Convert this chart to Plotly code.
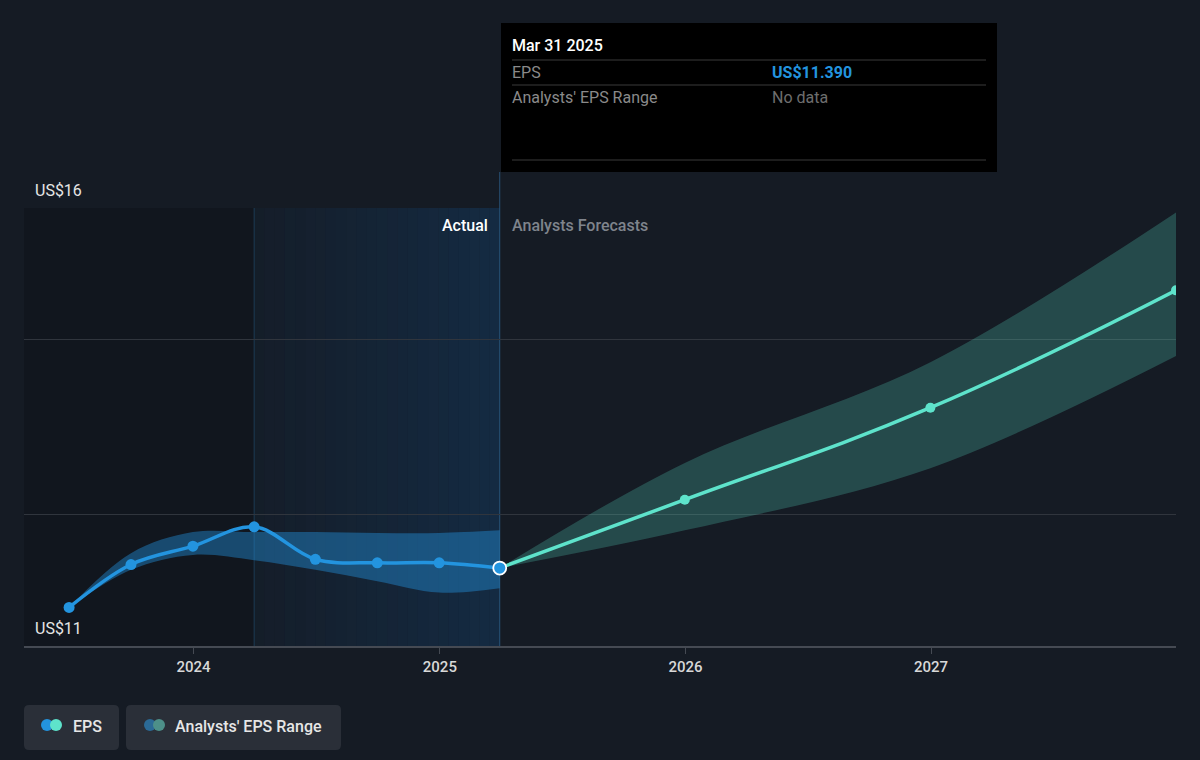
import plotly.graph_objects as go
import pandas as pd

# ---------------- data ----------------
actual_dates = ["2023-06-30", "2023-09-30", "2023-12-31", "2024-03-31",
                "2024-06-30", "2024-09-30", "2024-12-31", "2025-03-31"]
actual_eps = [11.44, 11.93, 12.14, 12.36, 11.99, 11.95, 11.95, 11.89]
actual_hi = [11.44, 12.06, 12.30, 12.30, 12.30, 12.29, 12.29, 12.32]
actual_lo = [11.44, 11.87, 12.04, 11.98, 11.87, 11.74, 11.61, 11.66]

fc_dates = ["2025-03-31", "2025-12-31", "2026-12-31", "2027-12-31"]
fc_eps = [11.89, 12.67, 13.72, 15.06]
fc_hi = [11.89, 13.09, 14.24, 15.95]
fc_lo = [11.89, 12.32, 13.03, 14.31]

y_grid = [11, 12.5, 14.5, 16]
y_labels = ["US$11", "US$16"]
x_ticks = ["2024-01-01", "2025-01-01", "2026-01-01", "2027-01-01"]
x_tick_text = ["2024", "2025", "2026", "2027"]
x_range = ["2023-04-24", "2027-12-31"]
y_range = [11, 16]

tip_date = "Mar 31 2025"
tip_eps = "US$11.390"

# ---------------- style ----------------
BG = "#151b24"
BLUE = "#2394df"
TEAL = "#5ee3cb"
FONT = "Roboto"

L, R, T, B = 24, 1176, 208, 646
W, H = 1200, 760


def px(x):
    return (x - L) / (R - L)


def py(y):
    return (B - y) / (B - T)


fig = go.Figure()

# actual band
fig.add_trace(go.Scatter(x=actual_dates, y=actual_lo, mode="lines",
                         line=dict(width=0, shape="spline", color=BLUE),
                         hoverinfo="skip"))
fig.add_trace(go.Scatter(x=actual_dates, y=actual_hi, mode="lines",
                         line=dict(width=0, shape="spline", color=BLUE),
                         fill="tonexty", fillcolor="rgba(35,148,223,0.42)",
                         hoverinfo="skip"))
# forecast band
fig.add_trace(go.Scatter(x=fc_dates, y=fc_lo, mode="lines",
                         line=dict(width=0, shape="spline", color=TEAL),
                         hoverinfo="skip"))
fig.add_trace(go.Scatter(x=fc_dates, y=fc_hi, mode="lines",
                         line=dict(width=0, shape="spline", color=TEAL),
                         fill="tonexty", fillcolor="rgba(92,224,200,0.24)",
                         hoverinfo="skip"))
# forecast line
fig.add_trace(go.Scatter(x=fc_dates[1:], y=fc_eps[1:], mode="markers",
                         marker=dict(size=10, color=TEAL), hoverinfo="skip"))
fig.add_trace(go.Scatter(x=fc_dates, y=fc_eps, mode="lines",
                         line=dict(width=3.5, shape="spline", color=TEAL,
                                   smoothing=1.2),
                         hoverinfo="skip"))
# actual line
fig.add_trace(go.Scatter(x=actual_dates, y=actual_eps, mode="lines+markers",
                         line=dict(width=3.5, shape="spline", color=BLUE),
                         marker=dict(size=11, color=BLUE), hoverinfo="skip"))
# hovered point
fig.add_trace(go.Scatter(x=[actual_dates[-1]], y=[actual_eps[-1]], mode="markers",
                         marker=dict(size=13, color=BLUE,
                                     line=dict(color="white", width=1.8)),
                         hoverinfo="skip"))

shapes = []
# dark left region (before actual highlight)
shapes.append(dict(type="rect", xref="x", yref="paper", x0=x_range[0],
                   x1=actual_dates[3], y0=0, y1=1, line_width=0,
                   fillcolor="rgba(0,0,0,0.16)", layer="below"))
# highlight gradient for last actual year
d0 = pd.Timestamp(actual_dates[3])
d1 = pd.Timestamp(actual_dates[-1])
n = 24
for i in range(n):
    a = d0 + (d1 - d0) * i / n
    b = d0 + (d1 - d0) * (i + 1) / n
    alpha = 0.06 + 0.30 * (i + 0.5) / n
    shapes.append(dict(type="rect", xref="x", yref="paper", x0=a, x1=b,
                       y0=0, y1=1, line_width=0,
                       fillcolor=f"rgba(20,72,122,{alpha:.3f})", layer="below"))
shapes.append(dict(type="line", xref="x", yref="paper", x0=actual_dates[3],
                   x1=actual_dates[3], y0=0, y1=1,
                   line=dict(color="rgba(45,100,145,0.45)", width=1), layer="below"))
shapes.append(dict(type="line", xref="x", yref="paper", x0=actual_dates[-1],
                   x1=actual_dates[-1], y0=0, y1=py(172),
                   line=dict(color="rgba(45,100,145,0.75)", width=1), layer="below"))

# tooltip box
shapes.append(dict(type="rect", xref="paper", yref="paper", x0=px(501), x1=px(997),
                   y0=py(172), y1=py(23), fillcolor="#000000", line_width=0))
for yy in (60, 85, 160):
    shapes.append(dict(type="line", xref="paper", yref="paper", x0=px(512),
                       x1=px(986), y0=py(yy), y1=py(yy),
                       line=dict(color="#3a3a3a", width=1.2)))


def rrect(x0, y0, x1, y1, r, color):
    rx = r / (R - L)
    ry = r / (B - T)
    X0, X1 = px(x0), px(x1)
    Y0, Y1 = py(y1), py(y0)  # Y0 bottom, Y1 top
    path = (f"M{X0+rx},{Y0} L{X1-rx},{Y0} Q{X1},{Y0} {X1},{Y0+ry} "
            f"L{X1},{Y1-ry} Q{X1},{Y1} {X1-rx},{Y1} L{X0+rx},{Y1} "
            f"Q{X0},{Y1} {X0},{Y1-ry} L{X0},{Y0+ry} Q{X0},{Y0} {X0+rx},{Y0} Z")
    return dict(type="path", xref="paper", yref="paper", path=path,
                fillcolor=color, line_width=0)


def circ(cx, cy, r, color):
    return dict(type="circle", xref="paper", yref="paper",
                x0=px(cx - r), x1=px(cx + r), y0=py(cy + r), y1=py(cy - r),
                fillcolor=color, line_width=0)


shapes.append(rrect(24, 705, 119, 750, 5, "#2a2f38"))
shapes.append(rrect(126, 705, 341, 750, 5, "#2a2f38"))
shapes.append(circ(47, 725, 6, BLUE))
shapes.append(circ(56, 725, 6, TEAL))
shapes.append(circ(150, 725, 6, "#2b6a96"))
shapes.append(circ(159, 725, 6, "#4d9089"))

annotations = []


def txt(x, y, s, color, size=16, anchor="left", weight=400):
    annotations.append(dict(xref="paper", yref="paper", x=px(x), y=py(y), text=s,
                            showarrow=False, xanchor=anchor, yanchor="middle",
                            borderpad=0,
                            font=dict(family=FONT, size=size, color=color,
                                      weight=weight)))


txt(34, 190, y_labels[1], "#e6e6e6")
txt(34, 628, y_labels[0], "#e6e6e6")
txt(489, 225, "Actual", "#ffffff", 16, "right", 500)
txt(511, 225, "Analysts Forecasts", "#7f848c", 16, "left", 500)
txt(511, 45, tip_date, "#ffffff", 16, "left", 500)
txt(511, 72, "EPS", "#8a8a8a")
txt(771, 72, tip_eps, BLUE, 16, "left", 700)
txt(511, 97, "Analysts' EPS Range", "#8a8a8a")
txt(771, 97, "No data", "#6e6e6e")
txt(72, 726, "EPS", "#e6e6e6", 16, "left", 500)
txt(174, 726, "Analysts' EPS Range", "#e6e6e6", 16, "left", 500)

fig.update_layout(
    width=W, height=H,
    margin=dict(l=L, r=W - R, t=T, b=H - B, pad=0),
    paper_bgcolor=BG, plot_bgcolor=BG,
    showlegend=False,
    shapes=shapes, annotations=annotations,
    hovermode=False,
    xaxis=dict(range=x_range, type="date", tickvals=x_ticks, ticktext=x_tick_text,
               showgrid=False, zeroline=False, showline=True,
               linecolor="#454a53", linewidth=1.5,
               ticks="outside", ticklen=6, tickcolor="#454a53",
               tickfont=dict(family=FONT, size=15, color="#d8d8d8", weight=500)),
    yaxis=dict(range=y_range, tickvals=y_grid, showticklabels=False,
               showgrid=True, gridcolor="#30353d", gridwidth=1.2,
               zeroline=False, showline=False, fixedrange=True),
)

fig.write_html("out.html")
